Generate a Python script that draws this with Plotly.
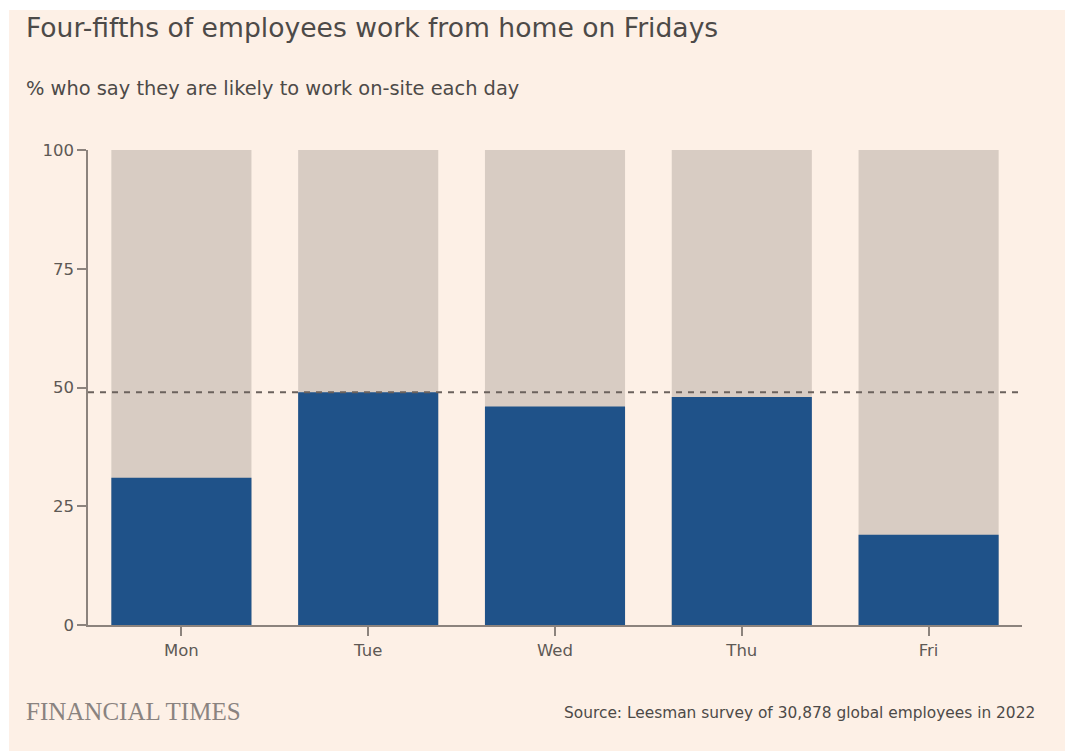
import plotly.graph_objects as go

# Data
days = ["Mon", "Tue", "Wed", "Thu", "Fri"]
onsite_pct = [31, 49, 46, 48, 19]
full_scale = [100, 100, 100, 100, 100]
reference_level = 49
y_ticks = [0, 25, 50, 75, 100]

PAPER = "#fdf0e6"
BLUE = "#1f5289"
GREY_BAR = "#d8ccc3"
TEXT = "#4d4a48"
TICK_TEXT = "#5e5955"
AXIS = "#8c837d"
SANS = "DejaVu Sans"

fig = go.Figure()

fig.add_trace(go.Bar(
    x=days, y=full_scale, marker=dict(color=GREY_BAR, line=dict(width=0)),
    width=0.75, hoverinfo="skip", showlegend=False,
))
fig.add_trace(go.Bar(
    x=days, y=onsite_pct, marker=dict(color=BLUE, line=dict(width=0)),
    width=0.75, showlegend=False,
))

L, R, T, B = 88, 42.5, 150, 126
W, H = 1065, 751
pw = W - L - R
ph = H - T - B


def px_x(px):
    return (px - L) / pw


def px_y(py):
    return (H - B - py) / ph


shapes = [
    # warm paper panel
    dict(type="rect", xref="paper", yref="paper",
         x0=px_x(9), x1=px_x(W + 5), y0=px_y(H + 5), y1=px_y(10),
         fillcolor=PAPER, line=dict(width=0), layer="below"),
    # reference level dashed line
    dict(type="line", xref="paper", yref="y",
         x0=0, x1=px_x(1020), y0=reference_level, y1=reference_level,
         line=dict(color="#6b625d", width=2.2, dash="6px,6px"), layer="above"),
]

annotations = [
    dict(text="Four-fifths of employees work from home on Fridays",
         xref="paper", yref="paper", x=px_x(24), y=px_y(28),
         xanchor="left", yanchor="middle", showarrow=False,
         font=dict(family=SANS, size=26.6, color=TEXT)),
    dict(text="% who say they are likely to work on-site each day",
         xref="paper", yref="paper", x=px_x(24), y=px_y(88),
         xanchor="left", yanchor="middle", showarrow=False,
         font=dict(family=SANS, size=19.4, color=TEXT)),
    dict(text="FINANCIAL TIMES",
         xref="paper", yref="paper", x=px_x(24), y=px_y(711),
         xanchor="left", yanchor="middle", showarrow=False,
         font=dict(family="Liberation Serif", size=25, color="#8a8380")),
    dict(text="Source: Leesman survey of 30,878 global employees in 2022",
         xref="paper", yref="paper", x=px_x(1038), y=px_y(713),
         xanchor="right", yanchor="middle", showarrow=False,
         font=dict(family=SANS, size=15.4, color=TEXT)),
]

fig.update_layout(
    width=W, height=H,
    margin=dict(l=L, r=R, t=T, b=B, pad=0),
    paper_bgcolor="white",
    plot_bgcolor="rgba(0,0,0,0)",
    barmode="overlay",
    shapes=shapes,
    annotations=annotations,
    xaxis=dict(
        range=[-0.5, 4.5], showgrid=False, zeroline=False,
        showline=True, linecolor=AXIS, linewidth=1.5,
        ticks="outside", ticklen=9, tickwidth=1.5, tickcolor=AXIS,
        tickfont=dict(family=SANS, size=16.5, color=TICK_TEXT),
        fixedrange=True,
    ),
    yaxis=dict(
        range=[0, 100], tickvals=y_ticks, showgrid=False, zeroline=False,
        showline=True, linecolor=AXIS, linewidth=1.5,
        ticks="outside", ticklen=9, tickwidth=1.5, tickcolor=AXIS,
        tickfont=dict(family=SANS, size=16.5, color=TICK_TEXT),
        fixedrange=True,
    ),
)

fig.write_html("out.html", config=dict(displayModeBar=False))
